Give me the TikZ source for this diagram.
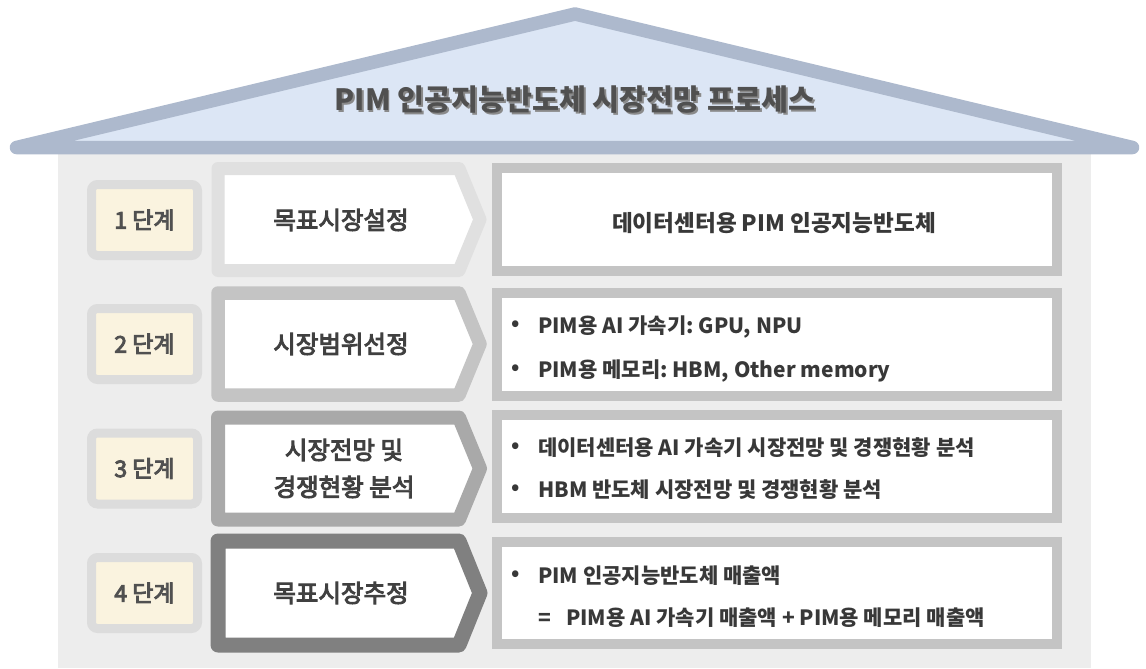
\documentclass[tikz,border=0pt]{standalone}
\usepackage{fontspec}
\setmainfont{Noto Sans CJK KR}
\newfontfamily\medfont{Noto Sans CJK KR}[FakeBold=4]
\frenchspacing
\definecolor{bodygray}{HTML}{EDEDED}
\definecolor{roofline}{HTML}{ADB9CD}
\definecolor{rooffill}{HTML}{DCE6F5}
\definecolor{labelborder}{HTML}{DCDCDC}
\definecolor{labelfill}{HTML}{FAF3DF}
\definecolor{boxborder}{HTML}{C4C4C4}
\definecolor{chevA}{HTML}{E0E0E0}
\definecolor{chevB}{HTML}{C4C4C4}
\definecolor{chevC}{HTML}{A9A9A9}
\definecolor{chevD}{HTML}{808080}
\definecolor{textgray}{HTML}{404040}
\definecolor{labeltext}{HTML}{505050}
\definecolor{titleshadow}{HTML}{8A8A8A}
\begin{document}
\begin{tikzpicture}[x=1pt,y=-1pt,
  every node/.style={text=textgray, inner sep=0pt},
  steplabel/.style={draw=labelborder, fill=labelfill, line width=9pt, rounded corners=6pt,
    minimum width=106pt, minimum height=71pt, text=labeltext, font=\medfont\fontsize{23}{26}\selectfont},
  chevframe/.style={fill=white, line join=round},
  chevtext/.style={font=\medfont\fontsize{24.5}{37}\selectfont, align=center},
  boxtext/.style={anchor=base, font=\bfseries\fontsize{22.6}{26}\selectfont, text=black!78},
  boxframe/.style={draw=boxborder, fill=white, line width=10pt, line join=miter},
  bullettext/.style={anchor=base west, font=\bfseries\fontsize{21}{24}\selectfont, text=black!78},
  bulletdot/.style={font=\bfseries\fontsize{21}{24}\selectfont, text=black!78},
  titletext/.style={font=\bfseries\fontsize{29.3}{32}\selectfont},
]
\useasboundingbox (0,0) rectangle (1146,669);
% house body
\fill[bodygray] (58,147) rectangle (1091,668);
% roof
\draw[draw=roofline, fill=rooffill, line width=13.5pt, line join=round]
  (16.5,147.5) -- (575,14) -- (1132.5,147.5) -- cycle;
\node[titletext, text=titleshadow] (titleshadow) at (576.8,101.8) {PIM 인공지능반도체 시장전망 프로세스};
\node[titletext, text=labeltext] (title) at (575,100) {PIM 인공지능반도체 시장전망 프로세스};

% step labels
\node[steplabel] (s1) at (144.5,220) {1 단계};
\node[steplabel] (s2) at (144.5,344) {2 단계};
\node[steplabel] (s3) at (144.5,468.5) {3 단계};
\node[steplabel] (s4) at (144.5,593) {4 단계};

% chevrons
\draw[chevframe, draw=chevA, line width=13pt] (218,168.5) -- (459,168.5) -- (480,219.5) -- (459,270.5) -- (218,270.5) -- cycle;
\draw[chevframe, draw=chevB, line width=13.5pt] (218,293) -- (459,293) -- (480,344) -- (459,395) -- (218,395) -- cycle;
\draw[chevframe, draw=chevC, line width=14pt] (218,417.5) -- (459,417.5) -- (480,468.5) -- (459,519.5) -- (218,519.5) -- cycle;
\draw[chevframe, draw=chevD, line width=15pt] (218,541) -- (459,541) -- (480,593) -- (459,645) -- (218,645) -- cycle;
\node[chevtext] (c1) at (341,220) {목표시장설정};
\node[chevtext] (c2) at (341,344) {시장범위선정};
\node[chevtext] (c3) at (344,468.5) {시장전망 및\\경쟁현황 분석};
\node[chevtext] (c4) at (341,593) {목표시장추정};

% right boxes
\draw[boxframe] (496.5,168) rectangle (1056.5,271);
\draw[boxframe] (496.5,292.5) rectangle (1056.5,395.5);
\draw[boxframe] (496.5,415) rectangle (1056.5,518);
\draw[boxframe] (496.5,542) rectangle (1056.5,644);

\node[boxtext] (r1) at (774,231.5) {데이터센터용 PIM 인공지능반도체};

\node[bulletdot] (d21) at (515.7,325.5) {•};
\node[bullettext] (t21) at (538,333) {PIM용 AI 가속기: GPU, NPU};
\node[bulletdot] (d22) at (515.7,369.5) {•};
\node[bullettext] (t22) at (538,377) {PIM용 메모리: HBM, Other memory};

\node[bulletdot] (d31) at (515.7,448) {•};
\node[bullettext] (t31) at (538,455.5) {데이터센터용 AI 가속기 시장전망 및 경쟁현황 분석};
\node[bulletdot] (d32) at (515.7,489.5) {•};
\node[bullettext] (t32) at (538,497) {HBM 반도체 시장전망 및 경쟁현황 분석};

\node[bulletdot] (d41) at (515.7,575.5) {•};
\node[bullettext] (t41) at (538,583) {PIM 인공지능반도체 매출액};
\node[bullettext] (t42) at (538,625) {\makebox[28pt][l]{=}PIM용 AI 가속기 매출액 + PIM용 메모리 매출액};
\end{tikzpicture}
\end{document}
